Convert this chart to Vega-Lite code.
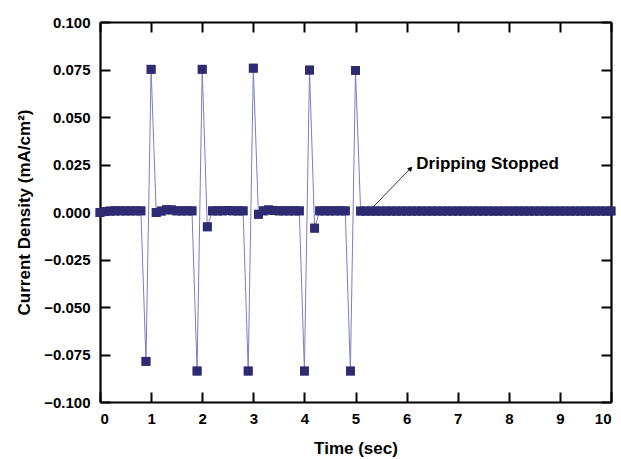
{
  "$schema": "https://vega.github.io/schema/vega-lite/v6.json",
  "width": 511,
  "height": 380,
  "autosize": "none",
  "padding": {"left": 100, "top": 22, "right": 10, "bottom": 57},
  "config": {
    "axis": {
      "labelFont": "Liberation Sans",
      "titleFont": "Liberation Sans",
      "labelFontWeight": "bold",
      "titleFontWeight": "bold",
      "labelColor": "black",
      "titleColor": "black",
      "labelFontSize": 15,
      "titleFontSize": 17
    }
  },
  "datasets": {
    "main": [
      {"t": 0.0, "j": -0.0003}, {"t": 0.1, "j": 0.0003}, {"t": 0.2, "j": 0.0005}, {"t": 0.3, "j": 0.0006},
      {"t": 0.4, "j": 0.0006}, {"t": 0.5, "j": 0.0006}, {"t": 0.6, "j": 0.0006}, {"t": 0.7, "j": 0.0006},
      {"t": 0.8, "j": 0.0006}, {"t": 0.9, "j": -0.0786}, {"t": 1.0, "j": 0.0751}, {"t": 1.1, "j": -0.0003},
      {"t": 1.2, "j": 0.0005}, {"t": 1.3, "j": 0.0012}, {"t": 1.4, "j": 0.0011}, {"t": 1.5, "j": 0.0006},
      {"t": 1.6, "j": 0.0006}, {"t": 1.7, "j": 0.0006}, {"t": 1.8, "j": 0.0006}, {"t": 1.9, "j": -0.0837},
      {"t": 2.0, "j": 0.0751}, {"t": 2.1, "j": -0.0078}, {"t": 2.2, "j": 0.0006}, {"t": 2.3, "j": 0.0006},
      {"t": 2.4, "j": 0.0006}, {"t": 2.5, "j": 0.0008}, {"t": 2.6, "j": 0.0006}, {"t": 2.7, "j": 0.0006},
      {"t": 2.8, "j": 0.0006}, {"t": 2.9, "j": -0.0837}, {"t": 3.0, "j": 0.0757}, {"t": 3.1, "j": -0.0012},
      {"t": 3.2, "j": 0.0006}, {"t": 3.3, "j": 0.0011}, {"t": 3.4, "j": 0.0008}, {"t": 3.5, "j": 0.0006},
      {"t": 3.6, "j": 0.0006}, {"t": 3.7, "j": 0.0006}, {"t": 3.8, "j": 0.0006}, {"t": 3.9, "j": 0.0006},
      {"t": 4.0, "j": -0.0837}, {"t": 4.1, "j": 0.0747}, {"t": 4.2, "j": -0.0085}, {"t": 4.3, "j": 0.0006},
      {"t": 4.4, "j": 0.0006}, {"t": 4.5, "j": 0.0006}, {"t": 4.6, "j": 0.0006}, {"t": 4.7, "j": 0.0006},
      {"t": 4.8, "j": 0.0006}, {"t": 4.9, "j": -0.0837}, {"t": 5.0, "j": 0.0745}, {"t": 5.1, "j": 0.0005},
      {"t": 5.2, "j": 0.0005}, {"t": 5.3, "j": 0.0005}, {"t": 5.4, "j": 0.0005}, {"t": 5.5, "j": 0.0005},
      {"t": 5.6, "j": 0.0005}, {"t": 5.7, "j": 0.0005}, {"t": 5.8, "j": 0.0005}, {"t": 5.9, "j": 0.0005},
      {"t": 6.0, "j": 0.0005}, {"t": 6.1, "j": 0.0005}, {"t": 6.2, "j": 0.0005}, {"t": 6.3, "j": 0.0005},
      {"t": 6.4, "j": 0.0005}, {"t": 6.5, "j": 0.0005}, {"t": 6.6, "j": 0.0005}, {"t": 6.7, "j": 0.0005},
      {"t": 6.8, "j": 0.0005}, {"t": 6.9, "j": 0.0005}, {"t": 7.0, "j": 0.0005}, {"t": 7.1, "j": 0.0005},
      {"t": 7.2, "j": 0.0005}, {"t": 7.3, "j": 0.0005}, {"t": 7.4, "j": 0.0005}, {"t": 7.5, "j": 0.0005},
      {"t": 7.6, "j": 0.0005}, {"t": 7.7, "j": 0.0005}, {"t": 7.8, "j": 0.0005}, {"t": 7.9, "j": 0.0005},
      {"t": 8.0, "j": 0.0005}, {"t": 8.1, "j": 0.0005}, {"t": 8.2, "j": 0.0005}, {"t": 8.3, "j": 0.0005},
      {"t": 8.4, "j": 0.0005}, {"t": 8.5, "j": 0.0005}, {"t": 8.6, "j": 0.0005}, {"t": 8.7, "j": 0.0005},
      {"t": 8.8, "j": 0.0005}, {"t": 8.9, "j": 0.0005}, {"t": 9.0, "j": 0.0005}, {"t": 9.1, "j": 0.0005},
      {"t": 9.2, "j": 0.0005}, {"t": 9.3, "j": 0.0005}, {"t": 9.4, "j": 0.0005}, {"t": 9.5, "j": 0.0005},
      {"t": 9.6, "j": 0.0005}, {"t": 9.7, "j": 0.0005}, {"t": 9.8, "j": 0.0005}, {"t": 9.9, "j": 0.0005},
      {"t": 10.0, "j": 0.0005}
    ],
    "arrow": [{"t": 5.3, "j": 0.0014}, {"t": 6.07, "j": 0.0228}],
    "head": [{"t": 6.08, "j": 0.0229}],
    "label": [{"t": 6.19, "j": 0.0226, "text": "Dripping Stopped"}]
  },
  "layer": [
    {
      "layer": [
        {
          "data": {"name": "main"},
          "mark": {"type": "line", "color": "#7d7dc2", "strokeWidth": 1},
          "encoding": {
            "x": {
              "field": "t", "type": "quantitative",
              "scale": {"domain": [0, 10], "nice": false},
              "axis": {
                "orient": "bottom", "values": [0,1,2,3,4,5,6,7,8,9,10], "format": "d",
                "tickSize": -10, "tickColor": "black", "tickWidth": 2,
                "domain": true, "domainColor": "black", "domainWidth": 2.2, "grid": false,
                "labelPadding": 19, "title": "Time (sec)", "titlePadding": 14
              }
            },
            "y": {
              "field": "j", "type": "quantitative",
              "scale": {"domain": [-0.1, 0.1], "nice": false, "zero": false},
              "axis": {
                "orient": "left",
                "values": [-0.1, -0.075, -0.05, -0.025, 0, 0.025, 0.05, 0.075, 0.1],
                "format": ".3f", "tickSize": -10, "tickColor": "black", "tickWidth": 2,
                "domain": true, "domainColor": "black", "domainWidth": 2.2, "grid": false,
                "labelPadding": 20, "title": "Current Density (mA/cm²)", "titlePadding": 10
              }
            }
          }
        },
        {
          "data": {"name": "main"},
          "mark": {"type": "point", "shape": "square", "filled": true, "size": 78, "color": "#2e2b72", "opacity": 1},
          "encoding": {
            "x": {"field": "t", "type": "quantitative"},
            "y": {"field": "j", "type": "quantitative"}
          }
        },
        {
          "data": {"name": "arrow"},
          "mark": {"type": "line", "color": "black", "strokeWidth": 0.8},
          "encoding": {
            "x": {"field": "t", "type": "quantitative"},
            "y": {"field": "j", "type": "quantitative"}
          }
        },
        {
          "data": {"name": "label"},
          "mark": {"type": "text", "align": "left", "baseline": "alphabetic", "font": "Liberation Sans", "fontWeight": "bold", "fontSize": 17, "color": "black"},
          "encoding": {
            "x": {"field": "t", "type": "quantitative"},
            "y": {"field": "j", "type": "quantitative"},
            "text": {"field": "text"}
          }
        },
        {
          "data": {"name": "head"},
          "mark": {"type": "point", "shape": "triangle-up", "filled": true, "size": 30, "color": "black", "angle": 44, "opacity": 1},
          "encoding": {
            "x": {"field": "t", "type": "quantitative"},
            "y": {"field": "j", "type": "quantitative"}
          }
        }
      ]
    },
    {
      "data": {"name": "main"},
      "mark": {"type": "point", "shape": "square", "filled": true, "size": 78, "color": "#2e2b72", "opacity": 1},
      "encoding": {
        "x": {
          "field": "t", "type": "quantitative",
          "axis": {"orient": "top", "values": [0,1,2,3,4,5,6,7,8,9,10], "labels": false, "tickSize": -10, "tickColor": "black", "tickWidth": 2, "domain": true, "domainColor": "black", "domainWidth": 2.2, "grid": false, "title": null}
        },
        "y": {
          "field": "j", "type": "quantitative",
          "axis": {"orient": "right", "values": [-0.1, -0.075, -0.05, -0.025, 0, 0.025, 0.05, 0.075, 0.1], "labels": false, "tickSize": -10, "tickColor": "black", "tickWidth": 2, "domain": true, "domainColor": "black", "domainWidth": 2.2, "grid": false, "title": null}
        }
      }
    }
  ],
  "resolve": {"axis": {"x": "independent", "y": "independent"}}
}
